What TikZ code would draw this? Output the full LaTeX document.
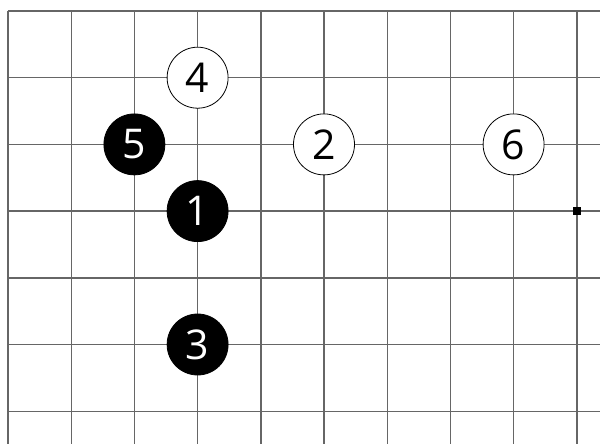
\documentclass[tikz,border=0pt]{standalone}
\usepackage{fontspec}
\newfontfamily\stonefont{Open Sans}
\usepackage{tikz}

\begin{document}
\begin{tikzpicture}[x=63.2pt, y=-66.7pt,
  stone/.style={circle,draw=black,line width=0.8pt,minimum size=61pt,inner sep=0pt,
    font=\stonefont\fontsize{41}{41}\selectfont},
  bstone/.style={stone,fill=black,text=white},
  wstone/.style={stone,fill=white,text=black},
  hoshi/.style={rectangle,fill=black,minimum size=8pt,inner sep=0pt}]
  \useasboundingbox (-8pt,11pt) rectangle (592pt,-433pt);
  \clip (-8pt,11pt) rectangle (592pt,-433pt);
  % board lines
  \foreach \i in {0,...,9} { \draw[black!60,line width=1.4pt] (\i,0) -- (\i,7); }
  \foreach \j in {0,...,6} { \draw[black!60,line width=1.4pt] (0,\j) -- (9.6,\j); }
  \node[hoshi] (star) at (9,3) {};
  % moves
  \node[bstone] (m1) at (3,3) {1};
  \node[wstone] (m2) at (5,2) {2};
  \node[bstone] (m3) at (3,5) {3};
  \node[wstone] (m4) at (3,1) {4};
  \node[bstone] (m5) at (2,2) {5};
  \node[wstone] (m6) at (8,2) {6};
\end{tikzpicture}
\end{document}
